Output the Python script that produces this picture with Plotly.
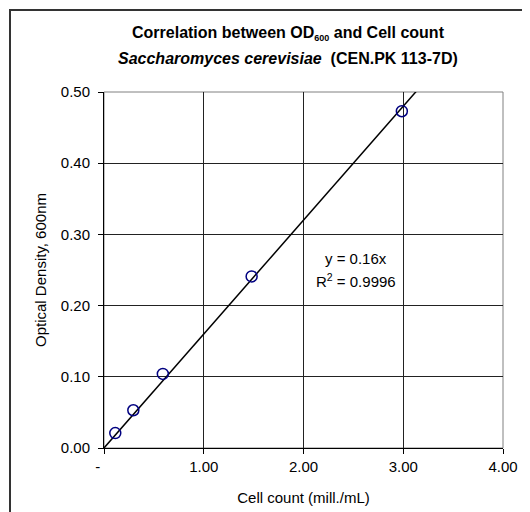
import plotly.graph_objects as go

# data
cell_count = [0.113, 0.294, 0.59, 1.48, 2.986]
od600 = [0.021, 0.053, 0.104, 0.241, 0.473]
slope = 0.16
r_squared = 0.9996
x_ticks = [0, 1, 2, 3, 4]
x_ticktext = ["-\u00a0\u00a0\u00a0", "1.00", "2.00", "3.00", "4.00"]
y_ticks = [0, 0.1, 0.2, 0.3, 0.4, 0.5]
y_ticktext = ["0.00", "0.10", "0.20", "0.30", "0.40", "0.50"]

FONT = "Liberation Sans, Arial, sans-serif"

fit_x = [0, x_ticks[-1]]
fit_y = [slope * v for v in fit_x]

fig = go.Figure()
fig.add_trace(go.Scatter(x=fit_x, y=fit_y, mode="lines",
                         line=dict(color="black", width=1.5),
                         hoverinfo="skip", showlegend=False))
fig.add_trace(go.Scatter(x=cell_count, y=od600, mode="markers",
                         marker=dict(symbol="circle-open", size=11,
                                     color="#000080", line=dict(width=1.5, color="#000080")),
                         showlegend=False))

# page body adds an 8px offset; layout below is in screen pixels minus 8
OFF = 8
W, H = 530, 512
L, R, T, B = 104 - OFF, W - (503 - OFF), 92 - OFF, H - (448 - OFF)
pw, ph = W - L - R, H - T - B

def px_x(p):
    return (p - OFF - L) / pw

def px_y(p):
    return (H - B - (p - OFF)) / ph

fig.update_layout(
    width=W, height=H,
    margin=dict(l=L, r=R, t=T, b=B),
    paper_bgcolor="white", plot_bgcolor="white",
    font=dict(family=FONT, size=15, color="black"),
    showlegend=False,
    xaxis=dict(range=[0, 4], tickvals=x_ticks, ticktext=x_ticktext,
               showgrid=True, gridcolor="#222", gridwidth=1,
               zeroline=False, showline=True, linecolor="black", linewidth=1,
               ticks="outside", ticklen=5, tickcolor="black",
               title=dict(text="Cell count (mill./mL)", standoff=18,
                          font=dict(size=15))),
    yaxis=dict(range=[0, 0.5], tickvals=y_ticks, ticktext=y_ticktext,
               showgrid=True, gridcolor="#222", gridwidth=1,
               zeroline=False, showline=True, linecolor="black", linewidth=1,
               ticks="outside", ticklen=5, tickcolor="black",
               ticklabelstandoff=5,
               title=dict(text="Optical Density, 600nm", standoff=10,
                          font=dict(size=15))),
    shapes=[
        dict(type="rect", xref="paper", yref="paper", x0=0, x1=1, y0=0, y1=1,
             line=dict(color="#808080", width=1), layer="below"),
        dict(type="rect", xref="paper", yref="paper",
             x0=px_x(10), x1=px_x(560), y0=px_y(10), y1=px_y(560),
             line=dict(color="#333333", width=2)),
    ],
    annotations=[
        dict(text="<b>Correlation between OD<sub><span style='font-size:9px'>600</span></sub> and Cell count</b>",
             xref="paper", yref="paper", x=px_x(288), y=px_y(34),
             xanchor="center", yanchor="middle", showarrow=False,
             font=dict(size=16)),
        dict(text="<b><i>Saccharomyces cerevisiae</i>  (CEN.PK 113-7D)</b>",
             xref="paper", yref="paper", x=px_x(288), y=px_y(58),
             xanchor="center", yanchor="middle", showarrow=False,
             font=dict(size=16)),
        dict(text=f"y = {slope}x", xref="paper", yref="paper",
             x=px_x(356), y=px_y(258), xanchor="center", yanchor="middle",
             showarrow=False, font=dict(size=15)),
        dict(text=f"R<sup>2</sup> = {r_squared}", xref="paper", yref="paper",
             x=px_x(356), y=px_y(280), xanchor="center", yanchor="middle",
             showarrow=False, font=dict(size=15)),
    ],
)

fig.write_html("out.html")
